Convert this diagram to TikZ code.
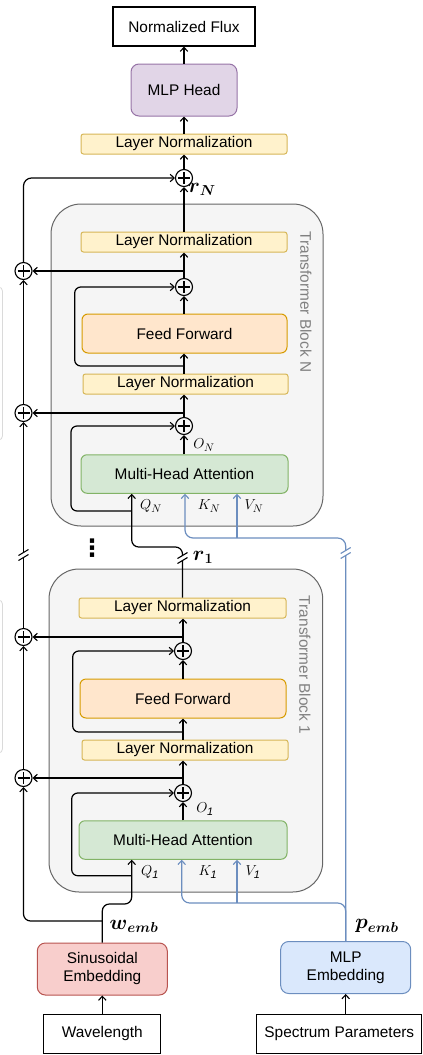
\documentclass[tikz,border=0pt]{standalone}
\usepackage{fontspec}
\setmainfont{Liberation Sans}
\newfontfamily\dejavu{DejaVu Sans}
\usepackage{amsmath}
\usetikzlibrary{arrows.meta,calc}
\definecolor{lnF}{HTML}{FFF2CC}\definecolor{lnD}{HTML}{D6B656}
\definecolor{ffF}{HTML}{FFE6CC}\definecolor{ffD}{HTML}{D79B00}
\definecolor{mhF}{HTML}{D5E8D4}\definecolor{mhD}{HTML}{82B366}
\definecolor{hdF}{HTML}{E1D5E7}\definecolor{hdD}{HTML}{9673A6}
\definecolor{siF}{HTML}{F8CECC}\definecolor{siD}{HTML}{B85450}
\definecolor{mlF}{HTML}{DAE8FC}\definecolor{mlD}{HTML}{6C8EBF}
\definecolor{blkF}{HTML}{F5F5F5}\definecolor{blkD}{HTML}{666666}
\definecolor{titleC}{HTML}{808080}
\definecolor{faintC}{HTML}{DADADA}
\begin{document}
\begin{tikzpicture}[x=1pt,y=-1pt,
  every node/.style={font=\fontsize{15.4}{18}\selectfont},
  bx/.style={draw, line width=1pt, inner sep=0pt, align=center},
  lnbox/.style={bx, fill=lnF, draw=lnD, rounded corners=2.5pt, minimum height=20pt},
  ffbox/.style={bx, fill=ffF, draw=ffD, rounded corners=6pt, minimum height=39pt},
  mhbox/.style={bx, fill=mhF, draw=mhD, rounded corners=6pt, minimum height=38.5pt},
  iobox/.style={bx, draw=black, line width=1.2pt, minimum height=39pt},
  blk/.style={fill=blkF, draw=blkD, line width=1pt, rounded corners=30pt},
  plus/.style={circle, draw, line width=1.1pt, minimum size=17pt, inner sep=0pt,
    path picture={\draw[line width=1.1pt]
      ([xshift=-6pt]path picture bounding box.center) -- ([xshift=6pt]path picture bounding box.center)
      ([yshift=-6pt]path picture bounding box.center) -- ([yshift=6pt]path picture bounding box.center);}},
  arr/.style={line width=1.2pt, -{Straight Barb[length=4pt,width=7.5pt,line width=1.1pt]}},
  barr/.style={arr, draw=mlD},
  lbl/.style={font=\fontsize{15.5}{17}\selectfont, inner sep=0pt},
  blbl/.style={font=\fontsize{20}{22}\selectfont, inner sep=0pt},
  ttl/.style={rotate=-90, text=titleC, inner sep=0pt},
  brk/.pic={\fill[white] (-5.5,6) -- (5.5,-0.5) -- (5.5,-6) -- (-5.5,0.5) -- cycle;
            \draw[line width=1.1pt] (-5,5.5) -- (5,-0.5) (-5,0.5) -- (5,-5.5);}
]
\useasboundingbox (0,0) rectangle (423,1055);
% faint cut-off boxes at the left edge
\begin{scope}
\clip (0,0) rectangle (423,1055);
\draw[faintC, line width=0.8pt, rounded corners=4pt] (-30,287) rectangle (2.5,440);
\draw[faintC, line width=0.8pt, rounded corners=4pt] (-30,600) rectangle (2.5,753);
\end{scope}
% transformer blocks
\draw[blk] (51,204) rectangle (323,526);
\draw[blk] (49,569) rectangle (322.7,892);
\node[ttl] (tN) at (306,302) {Transformer Block N};
\node[ttl] (t1) at (305,665) {Transformer Block 1};
% top
\node[iobox, minimum width=142pt] (out) at (184,26.5) {Normalized Flux};
\node[bx, fill=hdF, draw=hdD, rounded corners=8pt, minimum width=106pt, minimum height=52pt] (head) at (184,90) {MLP Head};
\node[lnbox, minimum width=206pt] (ln0) at (184,144) {Layer Normalization};
\node[plus] (rN) at (184,178) {};
% block N
\node[lnbox, minimum width=206pt] (lnN2) at (184,242) {Layer Normalization};
\node[plus] (pNb) at (23.5,271) {};
\node[plus] (pNf) at (184,287) {};
\node[ffbox, minimum width=205pt] (ffN) at (184.5,333.5) {Feed Forward};
\node[lnbox, minimum width=205pt] (lnN1) at (185.5,384) {Layer Normalization};
\node[plus] (pNa) at (23.5,413) {};
\node[plus] (pNm) at (184,426) {};
\node[mhbox, minimum width=207pt] (mhaN) at (184.5,474) {Multi-Head Attention};
% block 1
\node[lnbox, minimum width=207pt] (ln12) at (182.5,608) {Layer Normalization};
\node[plus] (p1b) at (23.5,637) {};
\node[plus] (p1f) at (183,651) {};
\node[ffbox, minimum width=206pt] (ff1) at (183,698.5) {Feed Forward};
\node[lnbox, minimum width=206pt] (ln11) at (185,750) {Layer Normalization};
\node[plus] (p1a) at (23.5,778) {};
\node[plus] (p1m) at (183,793) {};
\node[mhbox, minimum width=208pt] (mha1) at (183,840) {Multi-Head Attention};
% bottom
\node[bx, fill=siF, draw=siD, rounded corners=8pt, minimum width=130pt, minimum height=52pt] (sin) at (102.3,969) {Sinusoidal\\Embedding};
\node[bx, fill=mlF, draw=mlD, rounded corners=8pt, minimum width=130pt, minimum height=52pt] (mlpe) at (345.7,967.5) {MLP\\Embedding};
\node[iobox, minimum width=117pt] (wav) at (102.3,1033.7) {Wavelength};
\node[iobox, minimum width=165pt] (spec) at (339.3,1033.7) {Spectrum Parameters};
% labels
\node[blbl] (lrN) at (202,189) {$\boldsymbol{r}_{\boldsymbol{N}}$};
\node[blbl] (lr1) at (203,557) {$\boldsymbol{r}_{\boldsymbol{1}}$};
\node[lbl] (lON) at (204,445) {$O_N$};
\node[lbl] (lQN) at (151,506) {$Q_N$};
\node[lbl] (lKN) at (209,506) {$K_N$};
\node[lbl] (lVN) at (254,506) {$V_N$};
\node[lbl] (lO1) at (205,809) {$O_{\mathit{1}}$};
\node[lbl] (lQ1) at (150,872) {$Q_{\mathit{1}}$};
\node[lbl] (lK1) at (208,872) {$K_{\mathit{1}}$};
\node[lbl] (lV1) at (253,872) {$V_{\mathit{1}}$};
\node[blbl] (lw) at (134,926) {$\boldsymbol{w}_{\boldsymbol{emb}}$};
\node[blbl] (lp) at (377,926) {$\boldsymbol{p}_{\boldsymbol{emb}}$};
\node[font=\dejavu\bfseries\fontsize{24}{24}\selectfont, inner sep=0pt] (dots) at (92,548) {⋮};
% top connectors
\draw[arr] (head) -- (out);
\draw[arr] (ln0) -- (head);
\draw[arr] (rN) -- (ln0);
\draw[arr] (rN |- lnN2.north) -- (rN);
% block N connectors
\draw[arr] (pNf) -- (pNf |- lnN2.south);
\draw[arr] (pNf |- pNb) -- (pNb);
\draw[arr] (pNf |- ffN.north) -- (pNf);
\draw[arr] (pNf |- lnN1.north) -- (pNf |- ffN.south);
\draw[arr, rounded corners=6pt] (184,366) -- (74.7,366) -- (74.7,287) -- (pNf);
\draw[arr] (pNm) -- (pNm |- lnN1.south);
\draw[arr] (pNm |- pNa) -- (pNa);
\draw[arr] (pNm |- mhaN.north) -- (pNm);
\draw[arr, rounded corners=6pt] (131.7,511) -- (71,511) -- (71,426) -- (pNm);
\draw[arr, rounded corners=7pt] (ln12.north) -- (182.5,547) -- (131.7,547) -- ([xshift=-52.8pt]mhaN.south);
% block 1 connectors
\draw[arr] (p1f) -- (p1f |- ln12.south);
\draw[arr] (p1f |- p1b) -- (p1b);
\draw[arr] (p1f |- ff1.north) -- (p1f);
\draw[arr] (p1f |- ln11.north) -- (p1f |- ff1.south);
\draw[arr, rounded corners=6pt] (183,732) -- (72.7,732) -- (72.7,651) -- (p1f);
\draw[arr] (p1m) -- (p1m |- ln11.south);
\draw[arr] (p1m |- p1a) -- (p1a);
\draw[arr] (p1m |- mha1.north) -- (p1m);
\draw[arr, rounded corners=6pt] (131.7,875.7) -- (71.7,875.7) -- (71.7,793) -- (p1m);
% residual stream on the left
\draw[arr] (p1a) -- (p1b);
\draw[arr] (p1b) -- (pNa);
\draw[arr] (pNa) -- (pNb);
\draw[arr, rounded corners=8pt] (pNb.north) |- (rN);
% embeddings
\draw[arr, rounded corners=7pt] (sin.north) -- (102.3,904) -- (131.7,904) -- ([xshift=-51.3pt]mha1.south);
\draw[arr, rounded corners=7pt] (102.3,921) -- (23.5,921) -- (p1a);
\draw[barr, rounded corners=8pt] (mlpe.north) -- (345.7,538) -- (185,538) -- ([xshift=0.5pt]mhaN.south);
\draw[barr] (237,538) -- ([xshift=52.5pt]mhaN.south);
\draw[barr, rounded corners=8pt] (mlpe.north) -- (345.7,903) -- (181.7,903) -- ([xshift=-1.3pt]mha1.south);
\draw[barr] (237,903) -- ([xshift=54pt]mha1.south);
\draw[arr] (wav) -- (sin);
\draw[arr] (mlpe |- spec.north) -- (mlpe.south);
% breaks
\pic at (23.5,555) {brk};
\pic at (182.5,558) {brk};
\pic[mlD] at (345.7,553) {brk};
\end{tikzpicture}
\end{document}
